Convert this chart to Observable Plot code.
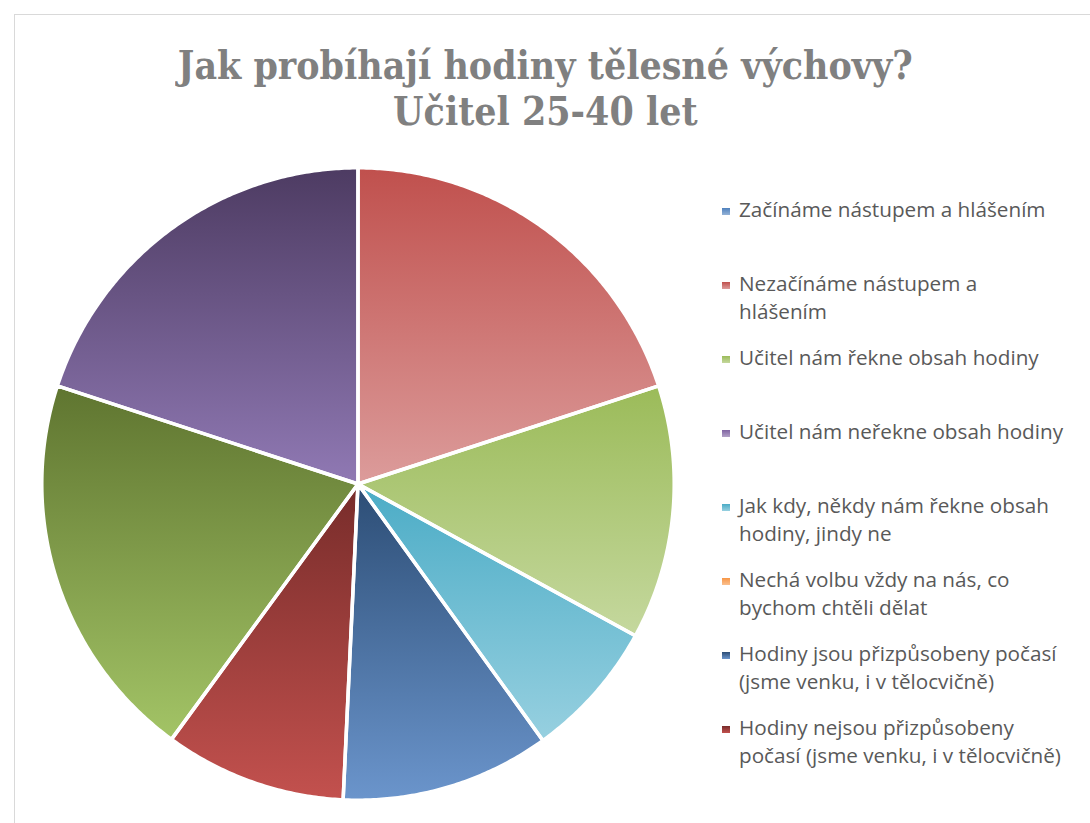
<!DOCTYPE html>
<html><head><meta charset="utf-8">
<script src="https://cdn.jsdelivr.net/npm/d3@7"></script>
<script src="https://cdn.jsdelivr.net/npm/@observablehq/plot@0.6"></script>
<style>
html,body{margin:0;padding:0;background:#fff;}
#wrap{position:relative;width:1090px;height:823px;overflow:hidden;background:#fff;}
#frame{position:absolute;left:14px;top:14px;width:1100px;height:840px;border:1px solid #d9d9d9;box-sizing:border-box;}
#title{position:absolute;left:0;top:42px;width:1090px;text-align:center;white-space:nowrap;}
#title span{display:inline-block;text-align:center;font-family:"DejaVu Serif","Liberation Serif",serif;font-weight:bold;color:#808080;font-size:39.5px;line-height:46px;transform-origin:50% 50%;}
#chart{position:absolute;left:0;top:150px;}
.entry{position:absolute;left:722px;width:360px;}
.entry .mk{position:absolute;left:0;width:8px;height:7px;}
.entry .tx{position:absolute;left:17px;width:360px;font-family:"Open Sans",sans-serif;font-size:20.7px;line-height:28px;color:#595959;white-space:nowrap;}
</style></head>
<body><div id="wrap"><div id="frame"></div>
<div id="title"><span></span></div>
<div id="chart"></div><div id="legend"></div></div>
<script>
// ---- data ----
const titleLines = ["Jak probíhají hodiny tělesné výchovy?", "Učitel 25-40 let"];
const categories = [
  "Začínáme nástupem a hlášením",
  "Nezačínáme nástupem a hlášením",
  "Učitel nám řekne obsah hodiny",
  "Učitel nám neřekne obsah hodiny",
  "Jak kdy, někdy nám řekne obsah hodiny, jindy ne",
  "Nechá volbu vždy na nás, co bychom chtěli dělat",
  "Hodiny jsou přizpůsobeny počasí (jsme venku, i v tělocvičně)",
  "Hodiny nejsou přizpůsobeny počasí (jsme venku, i v tělocvičně)",
  "Kategorie 9",
  "Kategorie 10"
];
const values = [0, 20, 13, 0, 7.1, 0, 10.7, 9.3, 20, 20];
const legendCount = 8; // only the first 8 categories are listed in the legend
// number of words on the first legend line (rest wraps to the second line)
const legendFirstLineWords = [99, 3, 99, 99, 6, 6, 4, 3];
const topColors    = ["#4f81bd", "#c0504d", "#9bbb59", "#8064a2", "#4bacc6", "#f79646", "#2c4d75", "#772c2a", "#5f7530", "#4d3b62"];
const bottomColors = ["#95b3d7", "#dc9c9b", "#c5d89e", "#b2a1c7", "#97d0e0", "#fac090", "#6b95cc", "#c3514e", "#a3c466", "#9079b4"];

// ---- title (one text block, two lines) ----
const tspan = document.querySelector("#title span");
titleLines.forEach((t, k) => {
  if (k) tspan.appendChild(document.createElement("br"));
  tspan.appendChild(document.createTextNode(t));
});

// ---- pie geometry (data space, unit circle) ----
const rows = categories.map((c, i) => ({cat: c, value: values[i], i}));
const arcs = d3.pie().sort(null).value(d => d.value)(rows).filter(a => a.data.value > 0);
const slices = arcs.map(a => {
  const n = Math.max(2, Math.ceil((a.endAngle - a.startAngle) / (Math.PI / 360)));
  const pts = [{x: 0, y: 0}];
  for (let j = 0; j <= n; j++) {
    const t = a.startAngle + (a.endAngle - a.startAngle) * j / n;
    pts.push({x: Math.sin(t), y: Math.cos(t)});
  }
  return {i: a.data.i, pts};
});

const defsMark = () => {
  const g = d3.create("svg:g");
  const defs = g.append("defs");
  categories.forEach((c, i) => {
    const lg = defs.append("linearGradient").attr("id", "pg" + i)
      .attr("x1", 0).attr("y1", 0).attr("x2", 0).attr("y2", 1);
    lg.append("stop").attr("offset", "0%").attr("stop-color", topColors[i]);
    lg.append("stop").attr("offset", "100%").attr("stop-color", bottomColors[i]);
  });
  return g.node();
};

const cx = 357.5, cy = 333.5, R = 316.2;
const chart = Plot.plot({
  width: 720, height: 680,
  margin: 0,
  style: {overflow: "visible", background: "transparent"},
  x: {domain: [-1, 1], range: [cx - R, cx + R], axis: null},
  y: {domain: [-1, 1], range: [cy + R, cy - R], axis: null},
  marks: [
    defsMark,
    ...slices.map(s => Plot.line(s.pts, {x: "x", y: "y", curve: "linear-closed", fill: `url(#pg${s.i})`, stroke: "none"})),
    ...slices.map(s => Plot.line(s.pts, {x: "x", y: "y", curve: "linear-closed", fill: "none", stroke: "white", strokeWidth: 3.5, strokeLinejoin: "round"}))
  ]
});
document.getElementById("chart").appendChild(chart);

// ---- legend ----
const legend = document.getElementById("legend");
for (let i = 0; i < legendCount; i++) {
  const base = 217 + 74 * i;
  const e = document.createElement("div");
  e.className = "entry";
  e.style.top = (base - 22) + "px";
  const mk = document.createElement("div");
  mk.className = "mk";
  mk.style.top = (22 - 9) + "px";
  mk.style.background = `linear-gradient(${topColors[i]}, ${bottomColors[i]})`;
  const tx = document.createElement("div");
  tx.className = "tx";
  const words = categories[i].split(" ");
  const k = legendFirstLineWords[i];
  const l1 = document.createElement("div"); l1.textContent = words.slice(0, k).join(" ");
  tx.appendChild(l1);
  if (k < words.length) {
    const l2 = document.createElement("div"); l2.textContent = words.slice(k).join(" ");
    tx.appendChild(l2);
  }
  e.appendChild(mk); e.appendChild(tx);
  legend.appendChild(e);
}

// fit title width to reference proportions
const w1 = tspan.getBoundingClientRect().width;
tspan.style.transform = `scaleX(${735 / w1})`;
</script>
</body></html>
